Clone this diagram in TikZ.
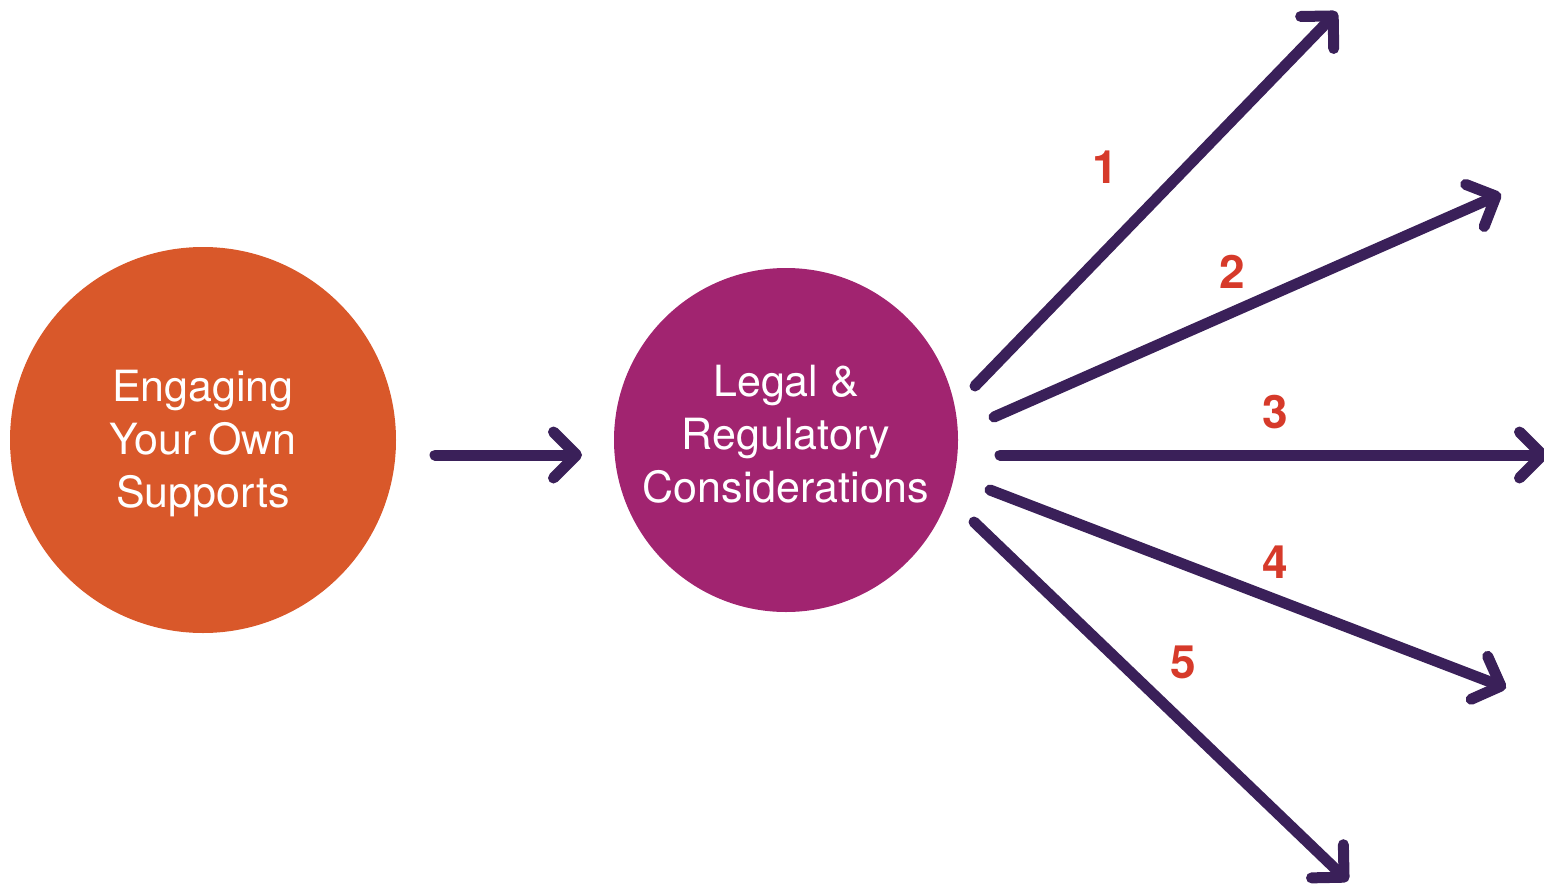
\documentclass[tikz,border=0pt]{standalone}
\usepackage{fontspec}
\setmainfont{TeX Gyre Heros}
\usetikzlibrary{arrows.meta}
\definecolor{orangec}{HTML}{D9582A}
\definecolor{purplec}{HTML}{A12470}
\definecolor{arrowc}{HTML}{3A2059}
\definecolor{numc}{HTML}{D63A2A}
\begin{document}
\begin{tikzpicture}[x=1pt,y=-1pt,
  bubble/.style={circle, inner sep=0pt},
  label/.style={text=white, align=center, font=\fontsize{43}{53}\selectfont},
  flow/.style={draw=arrowc, line width=11pt, line cap=round,
    -{Straight Barb[length=23pt,width=46pt,round]}},
  num/.style={text=numc, inner sep=0pt, font=\fontsize{46}{46}\selectfont\bfseries}]
\useasboundingbox (0,0) rectangle (1544,888);
\node[bubble, fill=orangec, minimum size=386pt] (engage) at (203,440) {};
\node[bubble, fill=purplec, minimum size=344pt] (legal) at (786,440) {};
\node[label] (engtext) at (203,444) {Engaging\\Your Own\\Supports};
\node[label] (legtext) at (786,434) {Legal \&\\Regulatory\\Considerations};
\coordinate (m0) at (435,455);
\coordinate (m1) at (582,455);
\coordinate (s1) at (975,386);
\coordinate (e1) at (1337,12);
\coordinate (s2) at (994,417);
\coordinate (e2) at (1501,194);
\coordinate (s3) at (1000,455);
\coordinate (e3) at (1548,455);
\coordinate (s4) at (990,490);
\coordinate (e4) at (1506,688);
\coordinate (s5) at (974,522);
\coordinate (e5) at (1348,881);
\draw[flow] (m0) -- (m1);
\draw[flow] (s1) -- (e1);
\draw[flow] (s2) -- (e2);
\draw[flow] (s3) -- (e3);
\draw[flow] (s4) -- (e4);
\draw[flow] (s5) -- (e5);
\node[num] (n1) at (1105,167) {1};
\node[num] (n2) at (1232,272) {2};
\node[num] (n3) at (1275,412) {3};
\node[num] (n4) at (1275,562) {4};
\node[num] (n5) at (1183,662) {5};
\end{tikzpicture}
\end{document}
